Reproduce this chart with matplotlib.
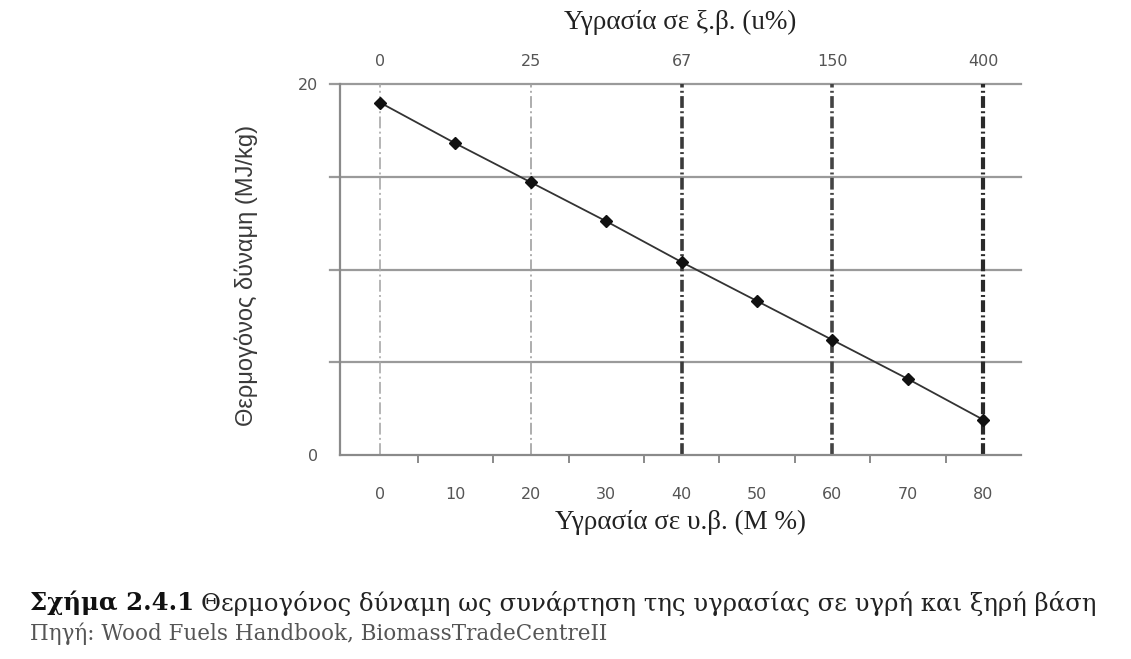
import matplotlib
matplotlib.use("Agg")
import matplotlib.pyplot as plt

plt.rcParams['lines.scale_dashes'] = False

# Data
moisture_wet = [0, 10, 20, 30, 40, 50, 60, 70, 80]
heating_value = [19.0, 16.8, 14.7, 12.6, 10.4, 8.3, 6.2, 4.1, 1.9]
top_positions = [0, 20, 40, 60, 80]
top_labels = ['0', '25', '67', '150', '400']
y_ticks = [0, 20]
grid_y = [5, 10, 15, 20]
minor_x = [5, 15, 25, 35, 45, 55, 65, 75]

W, H = 1131, 659
fig = plt.figure(figsize=(W / 100, H / 100), dpi=100)
fig.patch.set_facecolor('white')

ax = fig.add_axes([340 / W, 1 - 455 / H, (1021 - 340) / W, (455 - 84) / H])
ax.set_xlim(-5.3, 85)
ax.set_ylim(0, 20)

spine_col = '#8a8a8a'
for s in ['top', 'right']:
    ax.spines[s].set_visible(False)
for s in ['left', 'bottom']:
    ax.spines[s].set_color(spine_col)
    ax.spines[s].set_linewidth(1.6)

# horizontal grid
for gy in grid_y:
    ax.axhline(gy, color='#9a9a9a', lw=1.6, xmin=-0.015, clip_on=False, zorder=1)

# vertical dash-dot lines
vstyles = [('#a8a8a8', 1.2), ('#a0a0a0', 1.2), ('#3a3a3a', 2.6), ('#444444', 2.6), ('#2a2a2a', 3.0)]
for xp, (c, lw) in zip(top_positions, vstyles):
    ax.axvline(xp, color=c, lw=lw, ls=(0, (8.5, 2.4, 1.4, 2.4)), zorder=1)

ax.plot(moisture_wet, heating_value, color='#333333', lw=1.3, marker='D',
        markersize=6.5, markerfacecolor='#111111', markeredgecolor='#111111',
        zorder=3, clip_on=False)

tick_font = dict(family='DejaVu Sans', size=11.5, color='#555555')
ax.set_xticks(moisture_wet)
ax.set_xticklabels([str(v) for v in moisture_wet], **tick_font)
ax.tick_params(axis='x', length=0, pad=23)
ax.set_xticks(minor_x, minor=True)
ax.tick_params(axis='x', which='minor', length=6, width=1.4, color=spine_col, direction='out')
ax.set_yticks(y_ticks)
ax.set_yticklabels([str(v) for v in y_ticks], **tick_font)
ax.tick_params(axis='y', length=0, pad=16)

ax.set_xlabel('Υγρασία σε υ.β. (M %)', family='Liberation Serif', size=19.5, color='#222222', labelpad=6)
ax.set_ylabel('Θερμογόνος δύναμη (MJ/kg)', family='Liberation Sans', size=17, color='#3a3a3a')
ax.yaxis.set_label_coords(-0.12, 0.485)

ax2 = ax.twiny()
ax2.set_xlim(ax.get_xlim())
ax2.set_xticks(top_positions)
ax2.set_xticklabels(top_labels, **tick_font)
ax2.tick_params(axis='x', length=0, pad=11)
for s in ax2.spines.values():
    s.set_visible(False)
ax2.set_xlabel('Υγρασία σε ξ.β. (u%)', family='Liberation Serif', size=19.5, color='#222222', labelpad=18)

cap_y = 1 - 603 / H
t_bold = fig.text(30 / W, cap_y, 'Σχήμα 2.4.1', family='DejaVu Serif', weight='bold',
                  size=17.6, color='#111111', va='center', ha='left')
fig.canvas.draw()
bb = t_bold.get_window_extent()
fig.text((bb.x1 + 7) / W, cap_y, 'Θερμογόνος δύναμη ως συνάρτηση της υγρασίας σε υγρή και ξηρή βάση',
         family='DejaVu Serif', size=17.6, color='#222222', va='center', ha='left')
fig.text(30 / W, 1 - 634 / H, 'Πηγή: Wood Fuels Handbook, BiomassTradeCentreII',
         family='DejaVu Serif', size=15.5, color='#555555', va='center', ha='left')

fig.savefig('out.png', dpi=100, facecolor='white')
